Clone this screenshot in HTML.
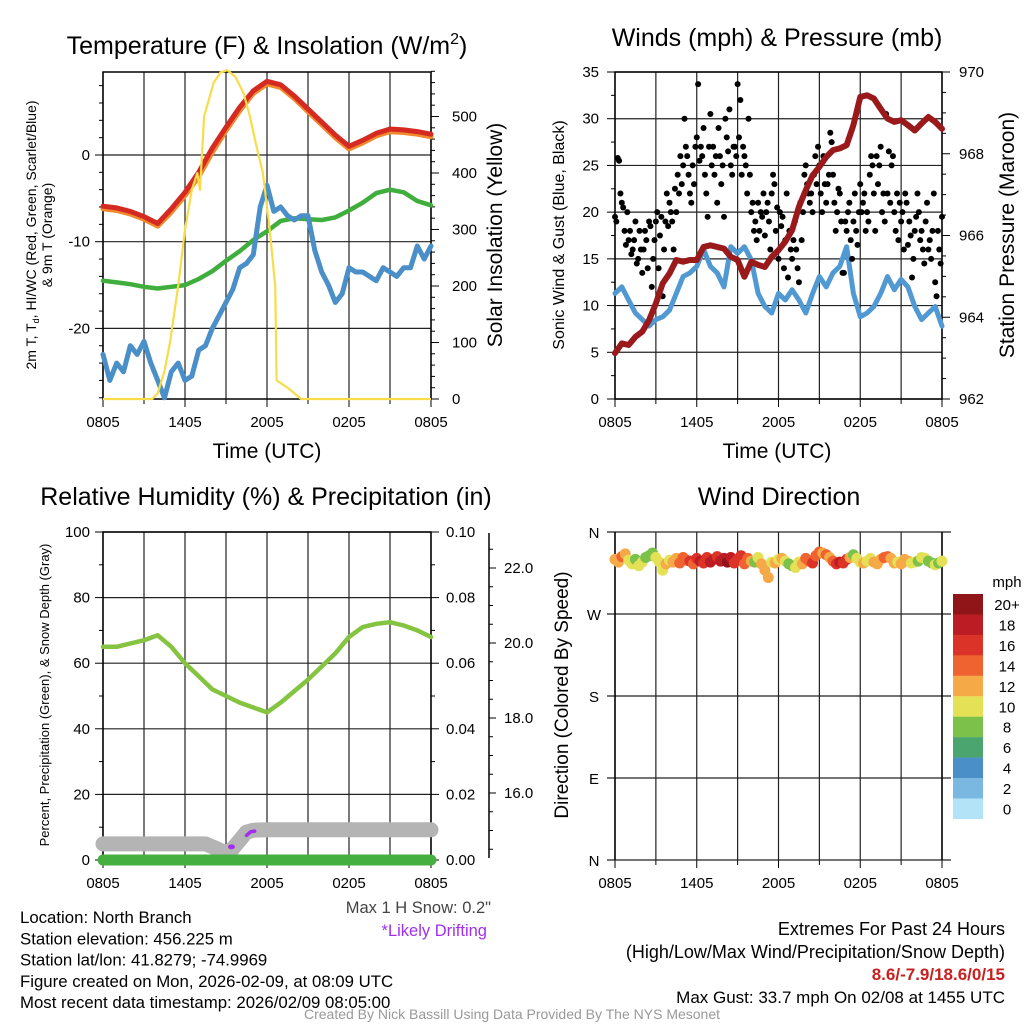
<!DOCTYPE html>
<html><head><meta charset="utf-8"><style>
html,body{margin:0;padding:0;background:#fff}
svg{display:block}
text{font-family:"Liberation Sans",Arial,sans-serif;fill:#000}
</style></head><body>
<svg id="c" width="1024" height="1024" viewBox="0 0 1024 1024" xmlns="http://www.w3.org/2000/svg"></svg>
<script>
// ---------- DATA ----------
const timeLabels = ["0805","1405","2005","0205","0805"];
const tempRed = [-5.9,-6.1,-6.5,-7.1,-7.9,-6.2,-4.3,-2.0,0.8,3.2,5.5,7.4,8.5,8.1,6.8,5.3,3.8,2.3,1.0,1.7,2.5,3.0,2.9,2.7,2.4];
const tempOrange = [-6.2,-6.4,-6.8,-7.4,-8.2,-6.6,-4.7,-2.5,0.3,2.8,5.1,7.1,8.2,7.8,6.5,5.0,3.5,2.0,0.7,1.4,2.2,2.7,2.6,2.4,2.1];
const dewGreen = [-14.5,-14.7,-14.9,-15.2,-15.4,-15.2,-15.0,-14.3,-13.4,-12.2,-11.1,-9.8,-8.8,-7.6,-7.3,-7.4,-7.5,-7.2,-6.4,-5.5,-4.4,-4.0,-4.3,-5.3,-5.8];
const windChill = [-23,-26,-24,-25,-22,-23,-21.5,-24,-26,-28,-25,-24,-26,-25.5,-22.5,-22,-20,-18.5,-17,-15.5,-13,-12.5,-11.5,-6,-3.5,-6.5,-6,-7,-7.5,-7,-7,-11,-13.5,-15,-17,-16,-13,-13.5,-13.5,-14,-14.5,-13,-13.5,-14,-13,-13,-10.5,-12,-10.5];
const insolHours = [0,3.6,4.0,4.5,4.9,5.5,6.0,6.5,6.9,7.1,7.4,8.1,8.6,9.1,9.7,10.3,10.75,11.2,11.7,12.2,12.6,12.7,13.5,14.5,24];
const insolVals  = [0,0,10,50,100,200,300,370,400,370,500,560,578,582,570,540,500,450,400,300,200,33,20,0,0];
const sonicWind = [11.3,12,10.6,9.2,8.5,7.8,8.5,8.8,9.5,11.3,13.1,13.5,14.2,16,14.2,13.5,12,16.3,15.6,16.3,14.9,11.3,9.9,9.2,11.3,10.6,11.7,10.6,9.2,11.3,13.1,12,13.5,14.2,16.3,11.3,8.8,9.2,9.9,11.3,13.1,11.7,12.8,12,9.9,8.5,9.2,9.9,7.8];
const pressure = [963.12,963.36,963.32,963.52,963.65,963.93,964.34,964.83,965.07,965.40,965.36,965.40,965.40,965.72,965.76,965.72,965.68,965.48,965.40,964.99,965.36,965.28,965.23,965.48,965.64,965.85,966.13,966.70,967.11,967.47,967.68,967.92,968.09,968.13,968.21,968.70,969.39,969.43,969.35,969.10,968.86,968.78,968.82,968.70,968.57,968.74,968.90,968.78,968.61];
const gusts = [19.5,19,25.8,25.5,22,21,20.5,18,16.5,20,
17,18,15.5,16,17,19,14.5,15,18,16,
13.5,16,18,17,14,19,18.5,12,15,17,
19,20,14,17.5,19.5,11,16,19,22,18.5,
21,20,19,16,22.5,20,24,22,26,23,
25,30,27,26,24,22,21,25,23,27,
28,33.7,25.5,27,26,29,24,22,19.5,27,
30.5,25,27,24,26,21,29,26,23,25,
19.5,30,28,26.5,31,25,24,27,27,26,
33.7,28,32,24,27,26,25,22,30,24,
20,21,18,19,17,21,18,20,19.5,22,
17.5,20,21,19,16,22,24,23,18,20.5,
15,20,18.5,19.5,14,17,22,13,18,16,
15,17,19,16,14,12.5,21,17,20,24,
25,23,22,21,22,20,24,26,23,27,
25,22,20,26,23,21,23,24,28.5,27.5,
24,21,18,20,22.5,22,19,13.5,13.5,19,
18,20,21,17,15,19,22,18,16.5,20,
23,20,21,22,18,20,19,24,26,25,
22,18,26,23,25,27,20,22,19,30.5,
22,26.5,21,25,26,20,18,22,17,21,
19,20,16,22,21,16.5,19,17.5,13,15,
18,19.5,22,20,17,18,16,14.5,19,21,
16,17,15,18,22,12.5,11,18,16,14.5,19.5];
const relHum = [65,65,66,67,68.5,65,60,56,52,50,48,46.5,45,48,51.5,55,59,63,68,71,72,72.5,71.5,70,68];
const snowHours = [0,7.5,8.3,9.0,9.5,10.0,10.5,11.0,12,24];
const snowDepth = [4.9,4.9,3.5,2.1,3.5,6,8.5,9.1,9.2,9.2];
const precip = [0,0];
const driftHours = [9.4,10.5,10.8,11.1];
const driftVals = [4,7.5,8.6,8.8];
const windDir = [330,327,333,336,329,325,330,323,327,332,334,337,332,327,318,325,329,327,331,326,332,329,328,325,331,328,326,332,327,330,333,328,331,327,332,326,330,334,325,331,328,327,332,325,318,310,327,326,330,331,328,325,323,321,327,325,331,328,326,334,338,337,335,332,328,325,327,326,330,332,335,331,327,326,328,331,327,325,330,332,333,331,326,327,325,330,328,326,327,328,332,331,328,326,324,326,328];
const windSpd = [11,12,13,11,10,9,8,9,10,8,7,8,9,10,9,11,10,12,11,13,14,13,15,14,16,17,16,15,17,18,16,17,18,19,17,16,15,16,14,13,12,7,10,11,12,12,10,11,10,12,9,8,7,9,10,12,13,14,15,13,14,12,13,11,14,16,17,16,15,12,8,9,10,11,9,10,12,11,12,13,14,12,11,10,12,11,12,10,9,8,9,10,8,7,9,8,9];
const cbarLabels = ["20+","18","16","14","12","10","8","6","4","2","0"];
const cbarColors = ["#8f1519","#bc1d24","#dc3328","#ef6330","#f5a947","#e5e157","#7cc24a","#4aa56e","#4a8fc7","#7ab8e2","#b3e3f7"];

// ---------- HELPERS ----------
const NS="http://www.w3.org/2000/svg";
const svg=document.getElementById('c');
function mk(tag,attrs,parent){const e=document.createElementNS(NS,tag);for(const k in attrs)e.setAttribute(k,attrs[k]);(parent||svg).appendChild(e);return e;}
function txt(s,x,y,size,anchor,parent,extra){const t=mk('text',Object.assign({x:x,y:y,'font-size':size,'text-anchor':anchor||'middle'},extra||{}),parent);t.textContent=s;return t;}
function pathFrom(xs,ys){return xs.map((x,i)=>(i?'L':'M')+x.toFixed(1)+','+ys[i].toFixed(1)).join('');}
function grp(name){const g=mk('g',{});return g;}

function frame(g,x0,y0,x1,y1){
  for(let i=0;i<=8;i++){const x=x0+(x1-x0)*i/8;const l=mk('line',{x1:x,y1:y0,x2:x,y2:y1,stroke:'#222','stroke-width':1.2},g);
    mk('line',{x1:x,y1:y1,x2:x,y2:y1+(i%2?5:8),stroke:'#000','stroke-width':1},g);}
  for(let i=0;i<5;i++){const t=txt(timeLabels[i],x0+(x1-x0)*i/4,y1+28,15,'middle',g);}
}
function box(g,x0,y0,x1,y1){mk('rect',{x:x0,y:y0,width:x1-x0,height:y1-y0,fill:'none',stroke:'#000','stroke-width':1.5},g);}

// ================= PANEL 1 =================
(function(){
  const g=grp('temperature-panel');
  const x0=103,x1=431,y0=72,y1=399;
  const xh=h=>x0+h*(x1-x0)/24;
  const yT=v=>155-v*8.67;
  const yI=v=>399-v*0.565;
  frame(g,x0,y0,x1,y1);
  [0,-10,-20].forEach(v=>{mk('line',{x1:x0,y1:yT(v),x2:x1,y2:yT(v),stroke:'#222','stroke-width':1.2},g);mk('line',{x1:x0-8,y1:yT(v),x2:x0,y2:yT(v),stroke:'#000'},g);const t=txt(String(v),x0-13,yT(v)+5,15,'end',g);});
  for(let v=8;v>=-28;v-=2){if(v%10)mk('line',{x1:x0-4,y1:yT(v),x2:x0,y2:yT(v),stroke:'#000'},g);}
  [0,100,200,300,400,500].forEach(v=>{mk('line',{x1:x1,y1:yI(v),x2:x1+8,y2:yI(v),stroke:'#000'},g);const t=txt(String(v),x1+21,yI(v)+5,15,'start',g);});
  for(let v=20;v<=580;v+=20){if(v%100)mk('line',{x1:x1,y1:yI(v),x2:x1+4,y2:yI(v),stroke:'#000'},g);}
  box(g,x0,y0,x1,y1);
  const H=tempRed.map((_,i)=>xh(i));
  let p;
  p=mk('path',{d:pathFrom(H,tempOrange.map(yT)),fill:'none',stroke:'#f08a2c','stroke-width':5,'stroke-linejoin':'round','stroke-linecap':'round'},g);
  p=mk('path',{d:pathFrom(H,tempRed.map(yT)),fill:'none',stroke:'#d52a22','stroke-width':5,'stroke-linejoin':'round','stroke-linecap':'round'},g);
  p=mk('path',{d:pathFrom(H,dewGreen.map(yT)),fill:'none',stroke:'#3fae3c','stroke-width':4.5,'stroke-linejoin':'round','stroke-linecap':'round'},g);
  p=mk('path',{d:pathFrom(windChill.map((_,i)=>xh(i/2)),windChill.map(yT)),fill:'none',stroke:'#4a8fc7','stroke-width':5,'stroke-linejoin':'round','stroke-linecap':'round'},g);
  p=mk('path',{d:pathFrom(insolHours.map(xh),insolVals.map(yI)),fill:'none',stroke:'#f9dc4a','stroke-width':2.2,'stroke-linejoin':'round'},g);
  let t=mk('text',{x:267,y:54,'font-size':25,'text-anchor':'middle'},g);t.innerHTML='Temperature (F) &amp; Insolation (W/m<tspan dy="-10" font-size="16">2</tspan><tspan dy="10">)</tspan>';
  t=txt('Time (UTC)',267,458,21,'middle',g);
  t=mk('text',{'font-size':14,'text-anchor':'middle',transform:'translate(36,235) rotate(-90)'},g);t.innerHTML='2m T, T<tspan dy="3" font-size="9">d</tspan><tspan dy="-3">, HI/WC (Red, Green, Scarlet/Blue)</tspan>';
  t=txt('& 9m T (Orange)',0,0,14,'middle',g,{transform:'translate(52,235) rotate(-90)'});
  t=txt('Solar Insolation (Yellow)',0,0,21,'middle',g,{transform:'translate(502,235) rotate(-90)'});
})();

// ================= PANEL 2 =================
(function(){
  const g=grp('winds-panel');
  const x0=615,x1=942,y0=72,y1=399;
  const xh=h=>x0+h*(x1-x0)/24;
  const yW=v=>399-v*(327/35);
  const yP=v=>399-(v-962)*(327/8);
  frame(g,x0,y0,x1,y1);
  for(let v=0;v<=35;v+=5){mk('line',{x1:x0,y1:yW(v),x2:x1,y2:yW(v),stroke:'#222','stroke-width':1.2},g);mk('line',{x1:x0-8,y1:yW(v),x2:x0,y2:yW(v),stroke:'#000'},g);const t=txt(String(v),x0-16,yW(v)+5,15,'end',g);
    if(v<35)mk('line',{x1:x0-4,y1:yW(v+2.5),x2:x0,y2:yW(v+2.5),stroke:'#000'},g);}
  for(let v=962;v<=970;v+=2){mk('line',{x1:x1,y1:yP(v),x2:x1+8,y2:yP(v),stroke:'#000'},g);const t=txt(String(v),x1+17,yP(v)+5,15,'start',g);}
  for(let v=962.5;v<970;v+=0.5){if(v%2)mk('line',{x1:x1,y1:yP(v),x2:x1+4,y2:yP(v),stroke:'#000'},g);}
  box(g,x0,y0,x1,y1);
  let p=mk('path',{d:pathFrom(sonicWind.map((_,i)=>xh(i/2)),sonicWind.map(yW)),fill:'none',stroke:'#5199d3','stroke-width':5,'stroke-linejoin':'round','stroke-linecap':'round'},g);
  const gs=24/(gusts.length-1);
  gusts.forEach((v,i)=>{const c=mk('circle',{cx:xh(i*gs),cy:yW(v),r:3,fill:'#000'},g);});
  p=mk('path',{d:pathFrom(pressure.map((_,i)=>xh(i/2)),pressure.map(yP)),fill:'none',stroke:'#9a1a1c','stroke-width':6,'stroke-linejoin':'round','stroke-linecap':'round'},g);
  let t=txt('Winds (mph) & Pressure (mb)',777,46,25,'middle',g);
  t=txt('Time (UTC)',777,458,21,'middle',g);
  t=txt('Sonic Wind & Gust (Blue, Black)',0,0,16,'middle',g,{transform:'translate(564,235) rotate(-90)'});
  t=txt('Station Pressure (Maroon)',0,0,21,'middle',g,{transform:'translate(1014,235) rotate(-90)'});
})();

// ================= PANEL 3 =================
(function(){
  const g=grp('humidity-panel');
  const x0=103,x1=431,y0=532,y1=860;
  const xh=h=>x0+h*(x1-x0)/24;
  const yR=v=>860-v*3.28;
  const yPr=v=>860-v*3280;
  const yS=v=>643-(v-20)*37.5;
  frame(g,x0,y0,x1,y1);
  for(let v=0;v<=100;v+=20){mk('line',{x1:x0,y1:yR(v),x2:x1,y2:yR(v),stroke:'#222','stroke-width':1.2},g);mk('line',{x1:x0-8,y1:yR(v),x2:x0,y2:yR(v),stroke:'#000'},g);const t=txt(String(v),x0-13,yR(v)+5,15,'end',g);
    if(v<100)mk('line',{x1:x0-4,y1:yR(v+10),x2:x0,y2:yR(v+10),stroke:'#000'},g);}
  for(let v=0;v<=0.1001;v+=0.02){mk('line',{x1:x1,y1:yPr(v),x2:x1+8,y2:yPr(v),stroke:'#000'},g);const t=txt(v.toFixed(2),x1+15,yPr(v)+5,15,'start',g);
    if(v<0.1)mk('line',{x1:x1,y1:yPr(v+0.01),x2:x1+4,y2:yPr(v+0.01),stroke:'#000'},g);}
  const a=mk('line',{x1:489,y1:533,x2:489,y2:858,stroke:'#000','stroke-width':1.5},g);
  [16,18,20,22].forEach(v=>{mk('line',{x1:489,y1:yS(v),x2:496,y2:yS(v),stroke:'#000'},g);const t=txt(v.toFixed(1),504,yS(v)+5,15,'start',g);});
  for(let v=14.5;v<=22.7;v+=0.5){if(v%2)mk('line',{x1:489,y1:yS(v),x2:493,y2:yS(v),stroke:'#000'},g);}
  box(g,x0,y0,x1,y1);
  let p=mk('path',{d:pathFrom(snowHours.map(xh),snowDepth.map(yR)),fill:'none',stroke:'#b4b4b4','stroke-width':15,'stroke-linejoin':'round','stroke-linecap':'round'},g);
  p=mk('path',{d:pathFrom([xh(0),xh(24)],precip.map(yPr)),fill:'none',stroke:'#45b040','stroke-width':11,'stroke-linecap':'round'},g);
  const c0=mk('ellipse',{cx:xh(driftHours[0]),cy:yR(driftVals[0]),rx:3.5,ry:2.5,fill:'#a12ff0'},g);
  p=mk('path',{d:pathFrom(driftHours.slice(1).map(xh),driftVals.slice(1).map(yR)),fill:'none',stroke:'#a12ff0','stroke-width':3.5,'stroke-linecap':'round'},g);
  p=mk('path',{d:pathFrom(relHum.map((_,i)=>xh(i)),relHum.map(yR)),fill:'none',stroke:'#85c440','stroke-width':4.5,'stroke-linejoin':'round','stroke-linecap':'round'},g);
  let t=txt('Relative Humidity (%) & Precipitation (in)',266,505,25,'middle',g);
  t=txt('Percent, Precipitation (Green), & Snow Depth (Gray)',0,0,13,'middle',g,{transform:'translate(49,695) rotate(-90)'});
  t=txt('Max 1 H Snow: 0.2"',491,913,16.5,'end',g,{style:'fill:#444'});
  t=txt('*Likely Drifting',487,936,16.5,'end',g,{style:'fill:#a12ff0'});
})();

// ================= PANEL 4 =================
(function(){
  const g=grp('wind-direction-panel');
  const x0=615,x1=942,y0=532,y1=860;
  const xh=h=>x0+h*(x1-x0)/24;
  const yD=v=>860-v*(328/360);
  frame(g,x0,y0,x1,y1);
  const dl=['N','E','S','W','N'];
  for(let i=0;i<5;i++){const v=i*90;mk('line',{x1:x0-8,y1:yD(v),x2:x1+9,y2:yD(v),stroke:'#222','stroke-width':1.2},g);const t=txt(dl[i],x0-21,yD(v)+6,15,'middle',g);}
  mk('line',{x1:x0,y1:y0,x2:x0,y2:y1,stroke:'#000','stroke-width':1.5},g);
  mk('line',{x1:x1,y1:y0,x2:x1,y2:y1,stroke:'#000','stroke-width':1.5},g);
  windDir.forEach((d,i)=>{const idx=Math.min(10,Math.round(windSpd[i]/2));const c=mk('circle',{cx:xh(i*24/(windDir.length-1)),cy:yD(d),r:5.5,fill:cbarColors[10-idx]},g);});
  cbarColors.forEach((c,i)=>{const r=mk('rect',{x:953,y:594+i*20.45,width:30,height:20.6,fill:c},g);
    const t=txt(cbarLabels[i],1007,594+i*20.45+16,15,'middle',g);});
  let t=txt('mph',1007,587,15,'middle',g);
  t=txt('Wind Direction',779,505,25,'middle',g);
  t=txt('Direction (Colored By Speed)',0,0,19,'middle',g,{transform:'translate(568,695) rotate(-90)'});
})();

// ================= FOOTER =================
(function(){
  const g=grp('footer');
  const lines=['Location: North Branch','Station elevation: 456.225 m','Station lat/lon: 41.8279; -74.9969','Figure created on Mon, 2026-02-09, at 08:09 UTC','Most recent data timestamp: 2026/02/09 08:05:00'];
  lines.forEach((s,i)=>{const t=txt(s,20,923+i*21.3,16.8,'start',g);});
  let t=txt('Extremes For Past 24 Hours',1005,935,18,'end',g);
  t=txt('(High/Low/Max Wind/Precipitation/Snow Depth)',1005,958,18,'end',g);
  t=txt('8.6/-7.9/18.6/0/15',1005,980,17,'end',g,{'font-weight':'bold',style:'fill:#c8201f'});
  t=txt('Max Gust: 33.7 mph On 02/08 at 1455 UTC',1005,1003,17,'end',g);
  t=txt('Created By Nick Bassill Using Data Provided By The NYS Mesonet',512,1019,14,'middle',g,{style:'fill:#999'});
})();
</script>
</body></html>
